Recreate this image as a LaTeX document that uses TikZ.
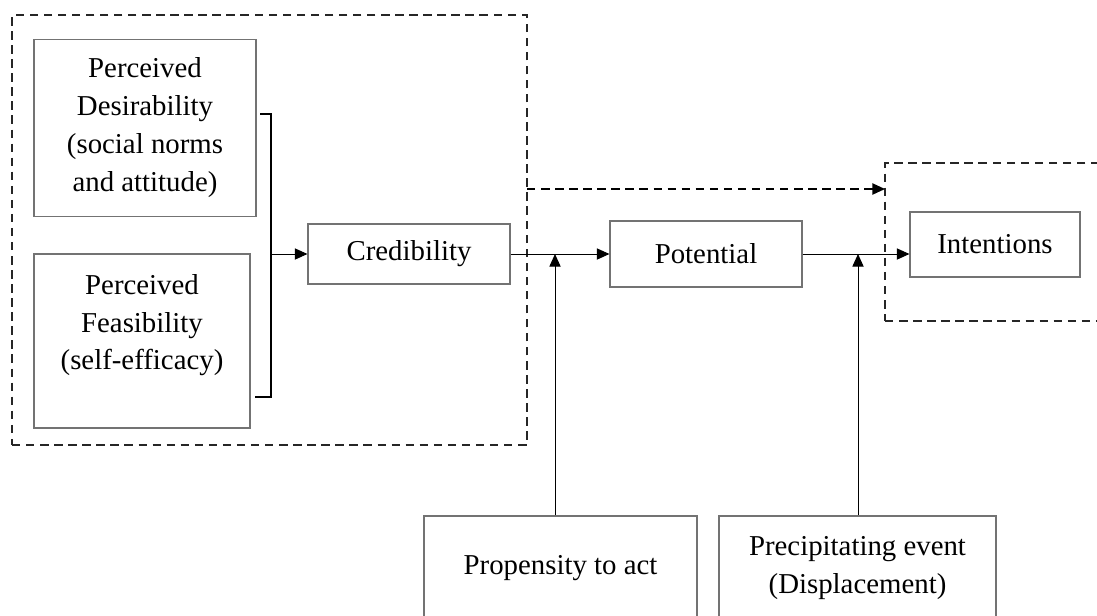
\documentclass[tikz,border=0pt]{standalone}
\usepackage{fontspec}
\setmainfont{Liberation Serif}
\usetikzlibrary{arrows.meta}
\tikzset{
	blk/.style={draw=black!55, line width=0.8pt, align=center, inner sep=2pt},
	grp/.style={draw=black!85, line width=1.3pt, dash pattern=on 6pt off 4pt},
	arr/.style={-{Triangle[length=9pt,width=8pt]}, line width=0.7pt},
}
\begin{document}
\begin{tikzpicture}[font=\fontsize{20.5}{27}\selectfont]
	\useasboundingbox (0,0) rectangle (27.425,-15.375);
	\clip (0,0) rectangle (27.425,-15.375);
	% dashed groups
	\node[grp, minimum width=12.875cm, minimum height=10.75cm] (G1) at (6.7375,-5.75) {};
	\node[grp, minimum width=5.625cm, minimum height=3.95cm] (G2) at (24.9375,-6.05) {};
	% boxes
	\node[blk, minimum width=5.55cm, minimum height=4.425cm] (PD) at (3.625,-3.19) {Perceived\\Desirability\\(social norms\\and attitude)};
	\node[blk, minimum width=5.4cm, minimum height=4.35cm] (PF) at (3.55,-8.525) {Perceived\\Feasibility\\(self-efficacy)\\\mbox{}};
	\node[blk, minimum width=5.05cm, minimum height=1.5cm] (C) at (10.225,-6.35) {Credibility};
	\node[blk, minimum width=4.8cm, minimum height=1.65cm] (P) at (17.65,-6.35) {Potential};
	\node[blk, minimum width=4.25cm, minimum height=1.625cm] (I) at (24.875,-6.1125) {Intentions};
	\node[blk, minimum width=6.825cm, minimum height=2.6cm] (PA) at (14.0125,-14.2) {Propensity to act};
	\node[blk, minimum width=6.925cm, minimum height=2.6cm] (PE) at (21.4375,-14.2) {Precipitating event\\(Displacement)};
	% bracket and joins
	\coordinate (bt) at (6.5,-2.85);
	\coordinate (bb) at (6.375,-9.925);
	\coordinate (bm) at (6.775,-6.35);
	\coordinate (j1) at (13.875,-6.35);
	\coordinate (j2) at (21.45,-6.35);
	\coordinate (d1) at (13.175,-4.725);
	\coordinate (d2) at (22.125,-4.725);
	\draw[line width=1.2pt] (bt) -| (bm) |- (bb);
	\draw 	(bm) edge[arr] (C)
	(C) edge[arr] (P)
	(P.east) edge[arr] (P.east -| I.west)
	(PA.north -| j1) edge[arr] (j1)
	(PE.north -| j2) edge[arr] (j2)
	(d1) edge[arr, dash pattern=on 6pt off 4pt, line width=1.1pt] (d2);
\end{tikzpicture}
\end{document}
